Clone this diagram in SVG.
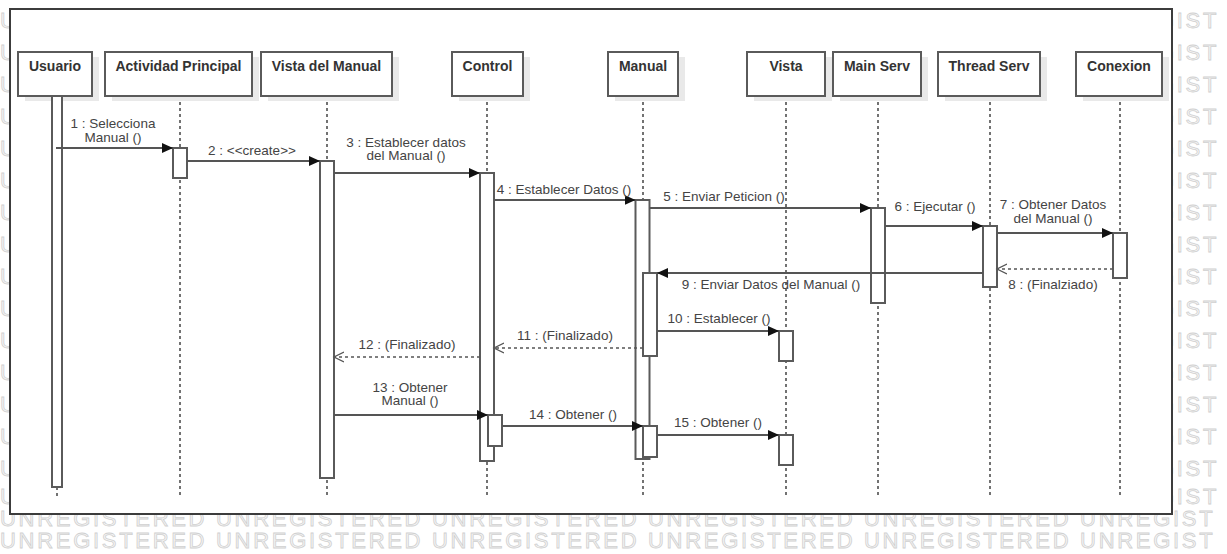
<svg xmlns="http://www.w3.org/2000/svg" width="1227" height="554" viewBox="0 0 1227 554">
  <style>
    .wm { font-family: "Liberation Sans", Arial, sans-serif; font-size: 22px; letter-spacing: 2.7px; fill: #f6f6f6; stroke: #d0d0d0; stroke-width: 0.8; }
    .frame { fill: #ffffff; stroke: #3c3c3c; stroke-width: 2; }
    .shadow { fill: #e9e9e9; }
    .box { fill: #ffffff; stroke: #5a5a5a; stroke-width: 2; }
    .head { font-family: "Liberation Sans", Arial, sans-serif; font-size: 14px; font-weight: bold; fill: #333333; text-anchor: middle; }
    .life { stroke: #444444; stroke-width: 1.5; stroke-dasharray: 3 3; fill: none; }
    .bar { fill: #ffffff; stroke: #5a5a5a; stroke-width: 2; }
    .call { stroke: #555555; stroke-width: 1.8; fill: none; marker-end: url(#filled); }
    .ret { stroke: #555555; stroke-width: 1.5; stroke-dasharray: 3 3; fill: none; marker-end: url(#open); }
    .lbl { font-family: "Liberation Sans", Arial, sans-serif; font-size: 13.5px; fill: #444444; text-anchor: middle; }
  </style>
  <defs>
    <marker id="filled" markerUnits="userSpaceOnUse" markerWidth="12" markerHeight="12" refX="11" refY="6" orient="auto">
      <path d="M0,1 L11,6 L0,11 Z" fill="#111111"/>
    </marker>
    <marker id="open" markerUnits="userSpaceOnUse" markerWidth="12" markerHeight="12" refX="10" refY="6" orient="auto">
      <path d="M0,1 L10,6 L0,11" fill="none" stroke="#555555" stroke-width="1.3"/>
    </marker>
  </defs>

  <!-- background watermark: only the parts outside the frame are visible -->
  <g id="watermark" class="wm">
    <text x="0" y="28">U</text><text x="1157" y="28">GIST</text>
    <text x="0" y="60">U</text><text x="1157" y="60">GIST</text>
    <text x="0" y="92">U</text><text x="1157" y="92">GIST</text>
    <text x="0" y="124">U</text><text x="1157" y="124">GIST</text>
    <text x="0" y="156">U</text><text x="1157" y="156">GIST</text>
    <text x="0" y="188">U</text><text x="1157" y="188">GIST</text>
    <text x="0" y="220">U</text><text x="1157" y="220">GIST</text>
    <text x="0" y="252">U</text><text x="1157" y="252">GIST</text>
    <text x="0" y="284">U</text><text x="1157" y="284">GIST</text>
    <text x="0" y="316">U</text><text x="1157" y="316">GIST</text>
    <text x="0" y="348">U</text><text x="1157" y="348">GIST</text>
    <text x="0" y="380">U</text><text x="1157" y="380">GIST</text>
    <text x="0" y="412">U</text><text x="1157" y="412">GIST</text>
    <text x="0" y="444">U</text><text x="1157" y="444">GIST</text>
    <text x="0" y="476">U</text><text x="1157" y="476">GIST</text>
    <text x="0" y="504">U</text><text x="1157" y="504">GIST</text>
    <text x="0" y="526">UNREGISTERED UNREGISTERED UNREGISTERED UNREGISTERED UNREGISTERED UNREGIST</text>
    <text x="0" y="548">UNREGISTERED UNREGISTERED UNREGISTERED UNREGISTERED UNREGISTERED UNREGIST</text>
  </g>

  <!-- diagram frame -->
  <rect id="frame" class="frame" x="10" y="9" width="1162" height="505"/>

  <!-- lifelines (dotted) -->
  <g id="lifelines" class="life">
    <line x1="57" y1="487" x2="57" y2="496"/>
    <line x1="180" y1="96" x2="180" y2="496"/>
    <line x1="327" y1="96" x2="327" y2="496"/>
    <line x1="487" y1="96" x2="487" y2="496"/>
    <line x1="643" y1="96" x2="643" y2="496"/>
    <line x1="786" y1="96" x2="786" y2="496"/>
    <line x1="878" y1="96" x2="878" y2="496"/>
    <line x1="990" y1="96" x2="990" y2="496"/>
    <line x1="1120" y1="96" x2="1120" y2="496"/>
  </g>

  <!-- participants -->
  <g id="usuario">
    <rect class="shadow" x="25" y="57" width="74" height="44"/>
    <rect class="box" x="18" y="52" width="74" height="44"/>
    <text class="head" x="55" y="71">Usuario</text>
    <rect class="bar" x="52" y="96" width="10" height="391"/>
  </g>
  <g id="actividad-principal">
    <rect class="shadow" x="112" y="57" width="147" height="44"/>
    <rect class="box" x="105" y="52" width="147" height="44"/>
    <text class="head" x="178.5" y="71">Actividad Principal</text>
    <rect class="bar" x="173" y="148" width="14" height="30"/>
  </g>
  <g id="vista-del-manual">
    <rect class="shadow" x="268" y="57" width="131" height="44"/>
    <rect class="box" x="261" y="52" width="131" height="44"/>
    <text class="head" x="326.5" y="71">Vista del Manual</text>
    <rect class="bar" x="320" y="161" width="14" height="317"/>
  </g>
  <g id="control">
    <rect class="shadow" x="459" y="57" width="71" height="44"/>
    <rect class="box" x="452" y="52" width="71" height="44"/>
    <text class="head" x="487.5" y="71">Control</text>
    <rect class="bar" x="480" y="173" width="14" height="288"/>
    <rect class="bar" x="488" y="415" width="14" height="31"/>
  </g>
  <g id="manual">
    <rect class="shadow" x="615" y="57" width="70" height="44"/>
    <rect class="box" x="608" y="52" width="70" height="44"/>
    <text class="head" x="643" y="71">Manual</text>
    <rect class="bar" x="635.5" y="200" width="14" height="259"/>
    <rect class="bar" x="643" y="273" width="14" height="83"/>
    <rect class="bar" x="643" y="426" width="14" height="31"/>
  </g>
  <g id="vista">
    <rect class="shadow" x="754" y="57" width="78" height="44"/>
    <rect class="box" x="747" y="52" width="78" height="44"/>
    <text class="head" x="786" y="71">Vista</text>
    <rect class="bar" x="779" y="331" width="14" height="30"/>
    <rect class="bar" x="779" y="435" width="14" height="30"/>
  </g>
  <g id="main-serv">
    <rect class="shadow" x="840" y="57" width="88" height="44"/>
    <rect class="box" x="833" y="52" width="88" height="44"/>
    <text class="head" x="877" y="71">Main Serv</text>
    <rect class="bar" x="871" y="208" width="14" height="95"/>
  </g>
  <g id="thread-serv">
    <rect class="shadow" x="945" y="57" width="102" height="44"/>
    <rect class="box" x="938" y="52" width="102" height="44"/>
    <text class="head" x="989" y="71">Thread Serv</text>
    <rect class="bar" x="983" y="226" width="14" height="61"/>
  </g>
  <g id="conexion">
    <rect class="shadow" x="1083" y="57" width="86" height="44"/>
    <rect class="box" x="1076" y="52" width="86" height="44"/>
    <text class="head" x="1119" y="71">Conexion</text>
    <rect class="bar" x="1113" y="233" width="14" height="45"/>
  </g>

  <!-- messages -->
  <g id="connectors">
    <line class="call" x1="56" y1="148" x2="173" y2="148"/>
    <line class="call" x1="187" y1="161" x2="320" y2="161"/>
    <line class="call" x1="334" y1="173" x2="480" y2="173"/>
    <line class="call" x1="494" y1="200" x2="635.5" y2="200"/>
    <line class="call" x1="649.5" y1="208" x2="871" y2="208"/>
    <line class="call" x1="885" y1="226" x2="983" y2="226"/>
    <line class="call" x1="997" y1="233" x2="1113" y2="233"/>
    <line class="ret" x1="1113" y1="269" x2="997" y2="269"/>
    <line class="call" x1="983" y1="273" x2="657" y2="273"/>
    <line class="call" x1="657" y1="331" x2="779" y2="331"/>
    <line class="ret" x1="643" y1="348" x2="494" y2="348"/>
    <line class="ret" x1="480" y1="357" x2="334" y2="357"/>
    <line class="call" x1="334" y1="415" x2="488" y2="415"/>
    <line class="call" x1="502" y1="426" x2="643" y2="426"/>
    <line class="call" x1="657" y1="435" x2="779" y2="435"/>
  </g>

  <!-- message labels -->
  <g id="labels" class="lbl">
    <text x="113" y="128">1 : Selecciona</text>
    <text x="113" y="142">Manual ()</text>
    <text x="252" y="155">2 : &lt;&lt;create&gt;&gt;</text>
    <text x="406" y="147">3 : Establecer datos</text>
    <text x="406" y="160">del Manual ()</text>
    <text x="564" y="194">4 : Establecer Datos ()</text>
    <text x="724" y="201">5 : Enviar Peticion ()</text>
    <text x="935" y="211">6 : Ejecutar ()</text>
    <text x="1053" y="209">7 : Obtener Datos</text>
    <text x="1053" y="223">del Manual ()</text>
    <text x="1053" y="289">8 : (Finalziado)</text>
    <text x="771" y="289">9 : Enviar Datos del Manual ()</text>
    <text x="719" y="323">10 : Establecer ()</text>
    <text x="565" y="340">11 : (Finalizado)</text>
    <text x="407" y="349">12 : (Finalizado)</text>
    <text x="410" y="392">13 : Obtener</text>
    <text x="410" y="405">Manual ()</text>
    <text x="573" y="419">14 : Obtener ()</text>
    <text x="718" y="427">15 : Obtener ()</text>
  </g>
</svg>
